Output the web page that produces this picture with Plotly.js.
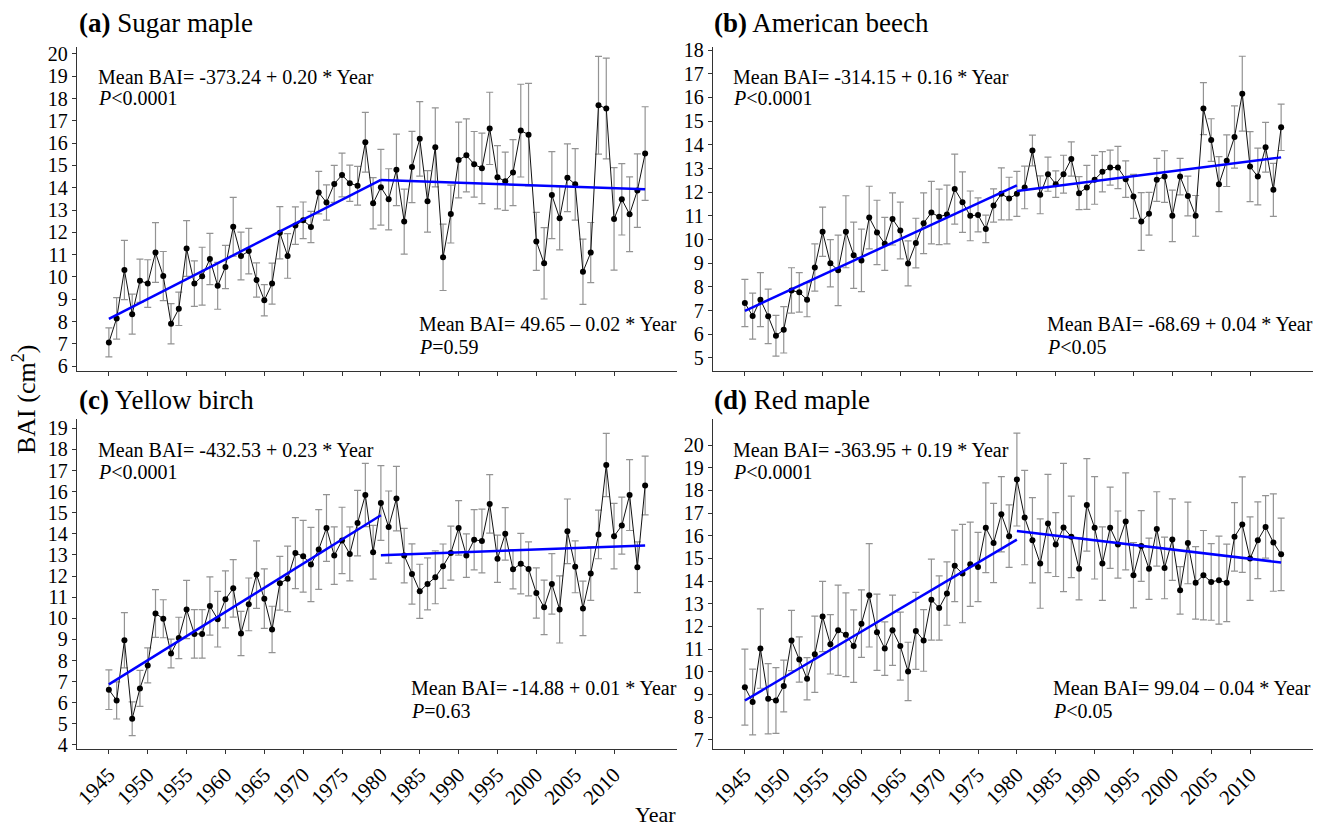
<!DOCTYPE html>
<html>
<head>
<meta charset="utf-8">
<script src="https://cdn.plot.ly/plotly-3.0.1.min.js"></script>
<style>html,body{margin:0;padding:0;background:#fff;}#chart{width:1320px;height:829px;}</style>
</head>
<body>
<div id="chart"></div>
<script>
// ---------------- DATA ----------------
const years = [1945,1946,1947,1948,1949,1950,1951,1952,1953,1954,
  1955,1956,1957,1958,1959,1960,1961,1962,1963,1964,
  1965,1966,1967,1968,1969,1970,1971,1972,1973,1974,
  1975,1976,1977,1978,1979,1980,1981,1982,1983,1984,
  1985,1986,1987,1988,1989,1990,1991,1992,1993,1994,
  1995,1996,1997,1998,1999,2000,2001,2002,2003,2004,
  2005,2006,2007,2008,2009,2010,2011,2012,2013,2014];

const xTickVals = [1945,1950,1955,1960,1965,1970,1975,1980,1985,1990,1995,2000,2005,2010];

// (a) Sugar maple
const sugarMaple = [7.06,8.14,10.31,8.33,9.83,9.70,11.09,10.04,7.90,8.57,
  11.27,9.70,10.03,10.80,9.60,10.44,12.25,10.94,11.16,9.86,
  8.95,9.70,11.98,10.94,12.30,12.54,12.24,13.78,13.34,14.17,
  14.57,14.20,14.09,16.04,13.30,14.02,13.48,14.80,12.48,14.93,
  16.19,13.39,15.81,10.88,12.82,15.24,15.45,15.05,14.87,16.66,
  14.47,14.29,14.68,16.56,16.38,11.59,10.61,13.67,12.63,14.45,
  14.15,10.23,11.09,17.70,17.55,12.60,13.48,12.81,13.87,15.53];
const sugarMapleErr = [0.65,0.93,1.33,0.90,0.97,1.07,1.34,1.10,0.90,0.75,
  1.25,1.02,1.30,1.15,1.05,0.97,1.32,1.07,1.02,0.77,
  0.70,0.92,1.17,1.00,0.84,0.82,0.70,0.95,0.79,0.83,
  0.98,0.81,0.87,1.34,1.15,1.70,1.37,1.60,1.46,1.60,
  1.67,1.38,1.77,1.49,1.30,1.70,1.64,1.47,1.58,1.62,
  1.42,1.31,1.48,2.08,2.30,1.30,1.60,1.95,1.42,1.52,
  1.60,1.46,1.35,2.19,2.26,2.30,1.60,1.68,1.65,2.10];
const sugarMapleFit1Years = [1945, 1980], sugarMapleFit1 = [8.12, 14.35];
const sugarMapleFit2Years = [1980, 2014], sugarMapleFit2 = [14.35, 13.93];

// (b) American beech
const americanBeech = [7.32,6.77,7.46,6.76,5.94,6.19,7.85,7.77,7.46,8.82,
  10.33,9.00,8.70,10.33,9.34,9.12,10.93,10.30,9.82,10.87,
  10.38,8.99,9.85,10.69,11.14,10.96,11.06,12.13,11.58,11.00,
  11.04,10.45,11.44,11.93,11.73,11.93,12.20,13.76,11.89,12.76,
  12.34,12.76,13.40,11.96,12.20,12.52,12.86,13.04,13.04,12.55,
  11.82,10.76,11.09,12.52,12.66,11.00,12.66,11.84,11.00,15.53,
  14.20,12.34,13.33,14.33,16.16,13.08,12.66,13.90,12.10,14.74];
const americanBeechErr = [1.00,0.97,1.14,1.15,0.86,0.98,0.96,0.83,0.72,1.00,
  1.04,1.00,1.49,1.52,1.40,1.32,1.32,1.36,1.12,1.10,
  1.20,0.95,1.05,1.28,1.32,1.17,1.24,1.48,1.28,1.05,
  0.72,0.58,0.70,1.10,0.90,0.95,0.90,0.65,0.80,0.72,
  0.56,0.80,0.72,0.70,0.93,1.03,0.85,0.74,0.89,0.77,
  0.93,1.22,0.90,0.91,1.09,1.09,0.77,0.84,0.86,1.10,
  0.90,1.16,1.09,1.31,1.58,1.48,1.20,1.05,1.12,0.98];
const americanBeechFit1Years = [1945, 1980], americanBeechFit1 = [6.99, 12.29];
const americanBeechFit2Years = [1980, 2014], americanBeechFit2 = [12.05, 13.47];

// (c) Yellow birch
const yellowBirch = [6.62,6.11,8.96,5.24,6.68,7.77,10.23,9.98,8.33,9.07,
  10.42,9.26,9.26,10.58,9.96,10.90,11.42,9.28,10.66,12.07,
  10.93,9.47,11.66,11.87,13.09,12.94,12.55,13.26,14.28,12.97,
  13.69,13.05,14.51,15.84,13.13,15.46,14.32,15.67,12.97,12.10,
  11.28,11.63,11.94,12.47,13.09,14.28,12.97,13.72,13.66,15.42,
  12.82,14.00,12.32,12.59,12.34,11.20,10.52,11.63,10.42,14.12,
  12.44,10.47,12.12,13.97,17.26,13.89,14.39,15.84,12.42,16.29];
const yellowBirchErr = [0.94,0.88,1.31,0.80,0.85,0.83,1.13,0.90,0.68,0.98,
  1.38,1.15,1.15,1.38,1.32,1.35,1.36,1.05,1.25,1.60,
  1.41,1.10,1.27,1.55,1.68,1.70,1.76,1.89,1.58,1.36,
  1.57,1.28,1.55,1.50,1.27,1.77,1.71,1.53,1.29,1.43,
  1.28,1.23,1.25,1.05,1.28,1.29,1.03,1.43,1.51,1.39,
  1.12,1.24,0.93,1.43,1.28,1.19,1.29,1.43,1.59,1.53,
  1.23,1.29,1.27,1.15,1.50,1.55,1.35,1.68,1.20,1.39];
const yellowBirchFit1Years = [1945, 1980], yellowBirchFit1 = [6.87, 14.88];
const yellowBirchFit2Years = [1980, 2014], yellowBirchFit2 = [12.99, 13.45];

// (d) Red maple
const redMaple = [9.32,8.66,11.02,8.81,8.73,9.37,11.38,10.54,9.69,10.77,
  12.44,11.21,11.83,11.63,11.13,12.12,13.37,11.74,11.02,11.83,
  11.13,10.01,11.80,11.38,13.18,12.81,13.45,14.67,14.33,14.74,
  14.62,16.35,15.68,16.95,15.98,18.48,16.80,15.80,14.77,16.54,
  15.61,16.36,15.95,14.54,17.36,16.35,14.77,16.35,15.61,16.63,
  14.26,15.55,14.54,16.30,14.58,15.83,13.59,15.68,13.92,14.26,
  13.96,14.04,13.92,15.95,16.49,14.99,15.80,16.39,15.70,15.18];
const redMapleErr = [1.68,1.45,1.75,1.55,1.45,1.14,1.33,1.00,0.93,1.68,
  1.55,1.31,1.99,1.85,1.60,1.49,2.28,1.68,1.18,1.55,
  1.50,1.29,1.70,1.36,1.79,1.42,1.40,1.58,2.17,1.86,
  1.53,1.98,1.75,1.66,1.38,2.05,2.08,1.88,1.97,2.17,
  1.41,2.83,1.80,1.37,2.04,2.26,1.62,1.79,1.48,2.14,
  1.44,1.56,1.35,1.64,1.36,1.80,1.05,1.80,1.60,1.97,
  1.69,1.94,1.71,1.51,2.11,1.84,1.69,1.38,2.15,1.60];
const redMapleFit1Years = [1945, 1980], redMapleFit1 = [8.73, 15.83];
const redMapleFit2Years = [1980, 2014], redMapleFit2 = [16.21, 14.82];

const yTicksA = [6,7,8,9,10,11,12,13,14,15,16,17,18,19,20];
const yTicksB = [5,6,7,8,9,10,11,12,13,14,15,16,17,18];
const yTicksC = [4,5,6,7,8,9,10,11,12,13,14,15,16,17,18,19];
const yTicksD = [7,8,9,10,11,12,13,14,15,16,17,18,19,20];

const panelTitles = ['<b>(a)</b> Sugar maple', '<b>(b)</b> American beech', '<b>(c)</b> Yellow birch', '<b>(d)</b> Red maple'];
const eqEarly = ['Mean BAI= -373.24 + 0.20 * Year', 'Mean BAI= -314.15 + 0.16 * Year', 'Mean BAI= -432.53 + 0.23 * Year', 'Mean BAI= -363.95 + 0.19 * Year'];
const pEarly = ['<i>P</i><0.0001', '<i>P</i><0.0001', '<i>P</i><0.0001', '<i>P</i><0.0001'];
const eqLate = ['Mean BAI= 49.65 \u2013 0.02 * Year', 'Mean BAI= -68.69 + 0.04 * Year', 'Mean BAI= -14.88 + 0.01 * Year', 'Mean BAI= 99.04 \u2013 0.04 * Year'];
const pLate = ['<i>P</i>=0.59', '<i>P</i><0.05', '<i>P</i>=0.63', '<i>P</i><0.05'];

// ---------------- LAYOUT HELPERS ----------------
const W = 1320, H = 829;
const FONT = '"Liberation Serif", "DejaVu Serif", serif';
const px = v => v / W;
const py = v => 1 - v / H;

const panels = [
  {vals: sugarMaple, err: sugarMapleErr, f1x: sugarMapleFit1Years, f1: sugarMapleFit1, f2x: sugarMapleFit2Years, f2: sugarMapleFit2,
   xd: [77, 677], yd: [47, 371], yr: [5.78, 20.31], yt: yTicksA, xlab: false,
   title: [77, 23], e1: [96, 77], p1: [96, 98], e2: [417, 324], p2: [417, 347]},
  {vals: americanBeech, err: americanBeechErr, f1x: americanBeechFit1Years, f1: americanBeechFit1, f2x: americanBeechFit2Years, f2: americanBeechFit2,
   xd: [713, 1313], yd: [47, 371], yr: [4.45, 18.13], yt: yTicksB, xlab: false,
   title: [712, 23], e1: [731, 77], p1: [731, 98], e2: [1045, 324], p2: [1045, 347]},
  {vals: yellowBirch, err: yellowBirchErr, f1x: yellowBirchFit1Years, f1: yellowBirchFit1, f2x: yellowBirchFit2Years, f2: yellowBirchFit2,
   xd: [77, 677], yd: [419, 749], yr: [3.81, 19.44], yt: yTicksC, xlab: true,
   title: [77, 400], e1: [96, 450], p1: [96, 472], e2: [409, 688], p2: [409, 711]},
  {vals: redMaple, err: redMapleErr, f1x: redMapleFit1Years, f1: redMapleFit1, f2x: redMapleFit2Years, f2: redMapleFit2,
   xd: [713, 1313], yd: [419, 749], yr: [6.59, 21.15], yt: yTicksD, xlab: true,
   title: [712, 400], e1: [731, 450], p1: [731, 472], e2: [1051, 688], p2: [1051, 711]}
];

const traces = [];
const layout = {
  width: W, height: H,
  margin: {l: 0, r: 0, t: 0, b: 0},
  paper_bgcolor: '#ffffff', plot_bgcolor: '#ffffff',
  showlegend: false,
  font: {family: FONT, color: '#000'},
  annotations: []
};

panels.forEach((p, i) => {
  const n = i === 0 ? '' : String(i + 1);
  const xa = 'x' + n, ya = 'y' + n;
  traces.push({
    type: 'scatter', mode: 'lines+markers', x: years, y: p.vals, xaxis: xa, yaxis: ya,
    line: {color: '#111', width: 1},
    marker: {color: '#000', size: 6},
    error_y: {type: 'data', array: p.err, visible: true, color: '#939393', thickness: 1.2, width: 3.5},
    hoverinfo: 'x+y'
  });
  traces.push({type: 'scatter', mode: 'lines', x: p.f1x, y: p.f1, xaxis: xa, yaxis: ya,
    line: {color: '#0000ff', width: 2.5}, hoverinfo: 'skip'});
  traces.push({type: 'scatter', mode: 'lines', x: p.f2x, y: p.f2, xaxis: xa, yaxis: ya,
    line: {color: '#0000ff', width: 2.5}, hoverinfo: 'skip'});

  layout['xaxis' + n] = {
    domain: [px(p.xd[0]), px(p.xd[1])], anchor: ya,
    range: [1940.9, 2018.1], showgrid: false, zeroline: false,
    showline: true, linecolor: '#333', linewidth: 1.3,
    ticks: 'outside', ticklen: 4, tickcolor: '#333', tickwidth: 1,
    tickmode: 'array', tickvals: xTickVals,
    showticklabels: p.xlab, tickangle: -45,
    tickfont: {family: FONT, size: 21, color: '#000'}
  };
  layout['yaxis' + n] = {
    domain: [py(p.yd[1]), py(p.yd[0])], anchor: xa,
    range: p.yr, showgrid: false, zeroline: false,
    showline: true, linecolor: '#333', linewidth: 1.3,
    ticks: 'outside', ticklen: 4, tickcolor: '#333', tickwidth: 1,
    tickmode: 'array', tickvals: p.yt,
    tickfont: {family: FONT, size: 20, color: '#000'}
  };

  const ann = (text, xy, size) => ({
    text: text, xref: 'paper', yref: 'paper', x: px(xy[0]), y: py(xy[1]),
    xanchor: 'left', yanchor: 'middle', showarrow: false,
    font: {family: FONT, size: size, color: '#000'}
  });
  layout.annotations.push(ann(panelTitles[i], p.title, 27));
  layout.annotations.push(ann(eqEarly[i], p.e1, 20));
  layout.annotations.push(ann(pEarly[i], p.p1, 20));
  layout.annotations.push(ann(eqLate[i], p.e2, 20));
  layout.annotations.push(ann(pLate[i], p.p2, 20));
});

// axis titles
layout.annotations.push({text: 'BAI (cm<sup>2</sup>)', xref: 'paper', yref: 'paper', x: px(25), y: py(400),
  xanchor: 'center', yanchor: 'middle', textangle: -90, showarrow: false,
  font: {family: FONT, size: 26, color: '#000'}});
layout.annotations.push({text: 'Year', xref: 'paper', yref: 'paper', x: px(655), y: py(814),
  xanchor: 'center', yanchor: 'middle', showarrow: false,
  font: {family: FONT, size: 22, color: '#000'}});

Plotly.newPlot('chart', traces, layout, {displayModeBar: false, staticPlot: true});
</script>
</body>
</html>
